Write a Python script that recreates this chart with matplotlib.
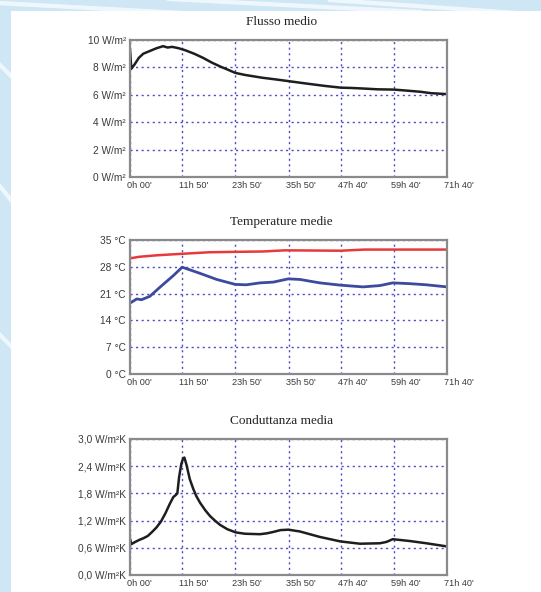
import matplotlib
matplotlib.use("Agg")
import matplotlib.pyplot as plt
import matplotlib.transforms as mtransforms
from matplotlib.patches import Rectangle
from matplotlib.lines import Line2D

# ---- data (hours, value) ----
flux_t = [0, 0.3, 1, 2, 3, 4.5, 6, 7.5, 8.5, 9.5, 11, 12.5, 14.5, 16.5, 18.5, 20.5, 22,
          23.8, 26, 29.8, 33, 35.8, 38.5, 41.6, 44, 47.7, 50, 53.2, 56, 59.7, 62, 65.7, 68, 71.67]
flux_v = [9.3, 7.9, 8.2, 8.7, 9.0, 9.2, 9.4, 9.55, 9.45, 9.5, 9.4, 9.25, 9.0, 8.7, 8.35, 8.05, 7.85,
          7.6, 7.45, 7.25, 7.12, 7.0, 6.88, 6.75, 6.65, 6.52, 6.5, 6.45, 6.4, 6.38, 6.32, 6.22, 6.12, 6.05]

t_red = [0, 2, 6, 11.8, 18, 23.8, 30, 35, 47.7, 53, 71.67]
v_red = [30.2, 30.6, 31.0, 31.4, 31.8, 31.9, 32.0, 32.3, 32.2, 32.5, 32.5]

t_blue = [0, 1.5, 2.6, 4.5, 6.8, 9.8, 11.8, 15.8, 19.6, 23.8, 26.3, 29.4, 32.4, 35.8, 38.4,
          42.9, 47.6, 52.7, 56.5, 59.4, 63.2, 67, 71.67]
v_blue = [18.5, 19.6, 19.4, 20.3, 22.7, 25.7, 27.9, 26.3, 24.7, 23.4, 23.3, 23.8, 24.0, 24.85, 24.7,
          23.8, 23.2, 22.75, 23.1, 23.8, 23.6, 23.3, 22.75]

cond_t = [0, 0.3, 1, 2, 3, 4, 5, 6, 7, 8, 9, 9.8, 10.3, 10.7, 11.1, 11.6, 12.0, 12.3, 12.8,
          13.5, 14.3, 15, 15.8, 17, 18.1, 19.2, 20.3, 22, 23.9, 26, 29.4, 31, 32.4, 34, 35.8,
          38.4, 42.9, 47.6, 52, 56.5, 58, 59.4, 63.2, 67, 71.67]
cond_v = [0.80, 0.68, 0.72, 0.77, 0.81, 0.86, 0.95, 1.05, 1.18, 1.36, 1.57, 1.72, 1.76, 1.80,
          2.16, 2.45, 2.57, 2.59, 2.42, 2.12, 1.9, 1.74, 1.6, 1.43, 1.3, 1.2, 1.11, 1.01, 0.94,
          0.91, 0.9, 0.92, 0.95, 0.99, 1.0, 0.96, 0.84, 0.74, 0.69, 0.70, 0.73, 0.79, 0.75, 0.70, 0.63]

x_ticks = [0, 11 + 50 / 60, 23 + 50 / 60, 35 + 50 / 60, 47 + 40 / 60, 59 + 40 / 60, 71 + 40 / 60]
x_labels = ["0h 00'", "11h 50'", "23h 50'", "35h 50'", "47h 40'", "59h 40'", "71h 40'"]

flux_ticks = [0, 2, 4, 6, 8, 10]
flux_labels = ["0 W/m²", "2 W/m²", "4 W/m²", "6 W/m²", "8 W/m²", "10 W/m²"]
temp_ticks = [0, 7, 14, 21, 28, 35]
temp_labels = ["0 °C", "7 °C", "14 °C", "21 °C", "28 °C", "35 °C"]
cond_ticks = [0.0, 0.6, 1.2, 1.8, 2.4, 3.0]
cond_labels = ["0,0 W/m²K", "0,6 W/m²K", "1,2 W/m²K", "1,8 W/m²K", "2,4 W/m²K", "3,0 W/m²K"]

titles = ["Flusso medio", "Temperature medie", "Conduttanza media"]

W, H = 541, 592
fig = plt.figure(figsize=(W / 100, H / 100), dpi=100)
fig.patch.set_facecolor("#cfe7f5")

# background streaks
for x0, y0, x1, y1 in [(-20, 2, 200, 14), (150, -2, 420, 12), (330, 0, 560, 16),
                      (-5, 60, 15, 80), (-5, 180, 15, 205), (-5, 330, 15, 350)]:
    fig.add_artist(Line2D([x0 / W, x1 / W], [1 - y0 / H, 1 - y1 / H], color="white",
                          lw=3, alpha=0.7, zorder=-3, transform=fig.transFigure))
fig.add_artist(Rectangle((11 / W, 0), 1 - 11 / W, 1 - 11 / H, transform=fig.transFigure,
                         facecolor="white", edgecolor="none", zorder=-1))

panels = [(40, 177), (240, 374), (439, 575)]
left_px, right_px = 130, 447
grid_color = "#4848c8"
xtick_font = dict(family="Liberation Sans", size=6.6, color="#3a3a3a")
ytick_font = dict(family="Liberation Sans", size=7.3, color="#3a3a3a")


def make_ax(top, bottom):
    ax = fig.add_axes([left_px / W, 1 - bottom / H, (right_px - left_px) / W, (bottom - top) / H])
    ax.set_facecolor("white")
    for s in ax.spines.values():
        s.set_color("#8a8a8a")
        s.set_linewidth(1.6)
    ax.set_xlim(0, x_ticks[-1])
    ax.set_xticks(x_ticks)
    ax.set_xticklabels(x_labels, ha="left", **xtick_font)
    ax.tick_params(length=0)
    ax.tick_params(axis="x", pad=3)
    ax.tick_params(axis="y", pad=3)
    ax.grid(True, color=grid_color, linestyle=(0, (1.5, 2.5)), linewidth=1.0)
    return ax


axes = [make_ax(t, b) for t, b in panels]

ax1, ax2, ax3 = axes
ax1.plot(flux_t, flux_v, color="#1e1e1e", lw=1.8)
ax1.set_ylim(0, 10)
ax1.set_yticks(flux_ticks)
ax1.set_yticklabels(flux_labels, **ytick_font)

ax2.plot(t_red, v_red, color="#e8393a", lw=1.8)
ax2.plot(t_blue, v_blue, color="#3c4aa0", lw=2.0)
ax2.set_ylim(0, 35)
ax2.set_yticks(temp_ticks)
ax2.set_yticklabels(temp_labels, **ytick_font)

ax3.plot(cond_t, cond_v, color="#1e1e1e", lw=1.8)
ax3.set_ylim(0, 3.0)
ax3.set_yticks(cond_ticks)
ax3.set_yticklabels(cond_labels, **ytick_font)

for ax in axes:
    offset = mtransforms.ScaledTranslation(-3 / 100, 0, fig.dpi_scale_trans)
    for lab in ax.get_xticklabels():
        lab.set_transform(lab.get_transform() + offset)

for ax, (top, bottom), title in zip(axes, panels, titles):
    fig.text(0.52, 1 - (top - 18) / H, title, ha="center", va="center",
             family="Liberation Serif", size=9.5, color="#222222")

fig.savefig("out.png", dpi=100, facecolor=fig.get_facecolor())
